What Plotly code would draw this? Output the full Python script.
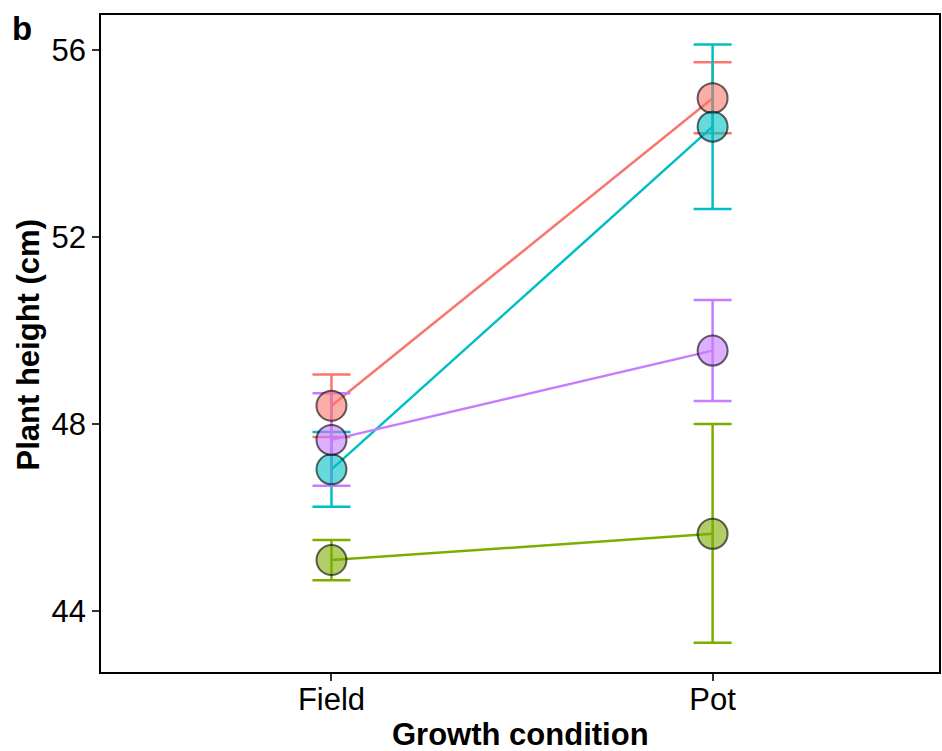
import plotly.graph_objects as go

conditions = ["Field", "Pot"]
groups = ["A", "B", "C", "D"]
colors = ["#F8766D", "#7CAE00", "#00BFC4", "#C77CFF"]
fills = ["rgba(248,118,109,0.6)", "rgba(124,174,0,0.6)", "rgba(0,191,196,0.6)", "rgba(199,124,255,0.6)"]

mean_vals = {
    "A": [48.39, 54.97],
    "B": [45.09, 45.65],
    "C": [47.03, 54.36],
    "D": [47.66, 49.57],
}
upper_vals = {
    "A": [49.06, 55.74],
    "B": [45.52, 48.00],
    "C": [47.83, 56.12],
    "D": [48.66, 50.65],
}
lower_vals = {
    "A": [47.72, 54.22],
    "B": [44.66, 43.32],
    "C": [46.23, 52.60],
    "D": [46.68, 48.49],
}
y_ticks = [44, 48, 52, 56]

xpos = list(range(len(conditions)))
fig = go.Figure()

for g, c in zip(groups, colors):
    m = mean_vals[g]
    up = [u - v for u, v in zip(upper_vals[g], m)]
    dn = [v - l for v, l in zip(m, lower_vals[g])]
    fig.add_trace(go.Scatter(
        x=xpos, y=m, mode="lines", line=dict(color=c, width=2.5),
        error_y=dict(type="data", symmetric=False, array=up, arrayminus=dn,
                     color=c, thickness=2.5, width=19),
        showlegend=False, hoverinfo="skip"))

for g, f in zip(groups, fills):
    fig.add_trace(go.Scatter(
        x=xpos, y=mean_vals[g], mode="markers",
        marker=dict(size=30, color=f, line=dict(color="rgba(0,0,0,0.6)", width=2)),
        showlegend=False))

font = "Liberation Sans, Arial, sans-serif"
fig.update_layout(
    width=942, height=751,
    margin=dict(l=101, r=1, t=15, b=79),
    plot_bgcolor="white", paper_bgcolor="white",
    font=dict(family=font, color="black"),
    xaxis=dict(range=[-0.6047, 1.594], tickvals=xpos, ticktext=conditions,
               showgrid=False, zeroline=False, showline=True, linecolor="black", linewidth=1.5,
               mirror=True, ticks="outside", ticklen=7, tickwidth=1.5, tickcolor="#333333",
               ticklabelstandoff=-8,
               tickfont=dict(size=31, color="black", family=font)),
    yaxis=dict(range=[42.695, 56.749], tickvals=y_ticks,
               showgrid=False, zeroline=False, showline=True, linecolor="black", linewidth=1.5,
               mirror=True, ticks="outside", ticklen=7, tickwidth=1.5, tickcolor="#333333",
               tickfont=dict(size=31, color="black", family=font)),
    annotations=[
        dict(text="<b>Growth condition</b>", xref="paper", yref="paper",
             x=0.5, y=0, xanchor="center", yanchor="middle", yshift=-62, showarrow=False,
             font=dict(size=31, color="black", family=font)),
        dict(text="<b>Plant height (cm)</b>", xref="paper", yref="paper",
             x=0, y=0.497, xanchor="center", yanchor="middle", xshift=-73, textangle=-90,
             showarrow=False, font=dict(size=31, color="black", family=font)),
        dict(text="<b>b</b>", xref="paper", yref="paper",
             x=0, y=1, xanchor="center", yanchor="middle", xshift=-79, yshift=-13,
             showarrow=False, font=dict(size=33, color="black", family=font)),
    ],
)

fig.write_html("out.html")
